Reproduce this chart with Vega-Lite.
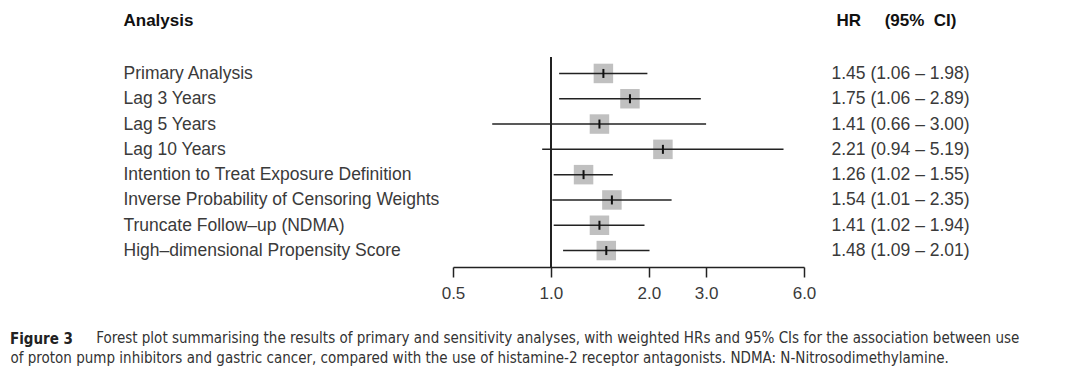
{
  "$schema": "https://vega.github.io/schema/vega-lite/v6.json",
  "width": 351,
  "height": 210,
  "autosize": "none",
  "padding": {"left": 453, "top": 57, "right": 264, "bottom": 111},
  "background": "white",
  "config": {"view": {"stroke": null}, "font": "Liberation Sans"},
  "title": {
    "text": "Figure 3",
    "orient": "bottom",
    "anchor": "start",
    "frame": "group",
    "dx": -443,
    "dy": -37,
    "font": "Liberation Sans Narrow, DejaVu Sans Condensed, sans-serif",
    "fontSize": 15,
    "fontWeight": "bold",
    "color": "#222222"
  },
  "data": {
    "values": [
      {"analysis": "Primary Analysis", "hr": 1.45, "lo": 1.06, "hi": 1.98, "hrtext": "1.45 (1.06 – 1.98)"},
      {"analysis": "Lag 3 Years", "hr": 1.75, "lo": 1.06, "hi": 2.89, "hrtext": "1.75 (1.06 – 2.89)"},
      {"analysis": "Lag 5 Years", "hr": 1.41, "lo": 0.66, "hi": 3.00, "hrtext": "1.41 (0.66 – 3.00)"},
      {"analysis": "Lag 10 Years", "hr": 2.21, "lo": 0.94, "hi": 5.19, "hrtext": "2.21 (0.94 – 5.19)"},
      {"analysis": "Intention to Treat Exposure Definition", "hr": 1.26, "lo": 1.02, "hi": 1.55, "hrtext": "1.26 (1.02 – 1.55)"},
      {"analysis": "Inverse Probability of Censoring Weights", "hr": 1.54, "lo": 1.01, "hi": 2.35, "hrtext": "1.54 (1.01 – 2.35)"},
      {"analysis": "Truncate Follow–up (NDMA)", "hr": 1.41, "lo": 1.02, "hi": 1.94, "hrtext": "1.41 (1.02 – 1.94)"},
      {"analysis": "High–dimensional Propensity Score", "hr": 1.48, "lo": 1.09, "hi": 2.01, "hrtext": "1.48 (1.09 – 2.01)"}
    ]
  },
  "encoding": {
    "x": {
      "type": "quantitative",
      "scale": {"type": "log", "domain": [0.5, 6], "nice": false, "zero": false},
      "axis": {
        "values": [0.5, 1, 2, 3, 6],
        "format": ".1f",
        "grid": false,
        "domainColor": "#222222",
        "domainWidth": 1.5,
        "tickColor": "#222222",
        "tickWidth": 1.5,
        "tickSize": 10,
        "labelFontSize": 17,
        "labelColor": "#3a3a3a",
        "labelPadding": 8,
        "labelFlush": false,
        "title": [
          "\u200b\u00a0\u00a0\u00a0\u00a0\u00a0\u00a0\u00a0\u00a0\u00a0\u00a0\u00a0\u00a0\u00a0\u00a0\u00a0\u00a0\u00a0\u00a0\u00a0\u00a0Forest plot summarising the results of primary and sensitivity analyses, with weighted HRs and 95% CIs for the association between use",
          "of proton pump inhibitors and gastric cancer, compared with the use of histamine-2 receptor antagonists. NDMA: N-Nitrosodimethylamine."
        ],
        "titleFont": "Liberation Sans Narrow, DejaVu Sans Condensed, sans-serif",
        "titleFontSize": 15,
        "titleFontWeight": "normal",
        "titleColor": "#333333",
        "titleAngle": 0,
        "titleAlign": "left",
        "titleBaseline": "alphabetic",
        "titleX": -443,
        "titleY": 75,
        "titleLineHeight": 20
      }
    }
  },
  "layer": [
    {
      "mark": {"type": "rule", "color": "#222222", "strokeWidth": 1.5},
      "encoding": {"x": {"datum": 1, "type": "quantitative"}}
    },
    {
      "mark": {"type": "square", "size": 380, "color": "#c0c0c0", "opacity": 1, "filled": true},
      "encoding": {
        "x": {"field": "hr", "type": "quantitative"},
        "y": {
          "field": "analysis",
          "type": "nominal",
          "sort": null,
          "scale": {"type": "point", "padding": 0.65},
          "axis": {
            "orient": "left",
            "domain": false,
            "ticks": false,
            "labelAlign": "left",
            "labelPadding": 330,
            "labelLimit": 0,
            "labelFontSize": 17.5,
            "labelColor": "#3a3a3a",
            "title": "Analysis",
            "titleFontSize": 17,
            "titleFontWeight": "bold",
            "titleColor": "#111111",
            "titleAngle": 0,
            "titleAlign": "left",
            "titleBaseline": "middle",
            "titleX": -330,
            "titleY": -37
          }
        }
      }
    },
    {
      "mark": {"type": "rule", "color": "#222222", "strokeWidth": 1.5},
      "encoding": {
        "x": {"field": "lo", "type": "quantitative"},
        "x2": {"field": "hi"},
        "y": {
          "field": "analysis",
          "type": "nominal",
          "sort": null,
          "scale": {"type": "point", "padding": 0.65},
          "axis": null
        }
      }
    },
    {
      "mark": {"type": "tick", "color": "#111111", "size": 9, "thickness": 2, "opacity": 1},
      "encoding": {
        "x": {"field": "hr", "type": "quantitative"},
        "y": {
          "field": "hrtext",
          "type": "nominal",
          "sort": null,
          "scale": {"type": "point", "padding": 0.65},
          "axis": {
            "orient": "right",
            "domain": false,
            "ticks": false,
            "labelAlign": "left",
            "labelPadding": 27,
            "labelLimit": 0,
            "labelFontSize": 17.5,
            "labelColor": "#3a3a3a",
            "title": "HR\u00a0\u00a0\u00a0\u00a0\u00a0(95%\u00a0\u00a0CI)",
            "titleFontSize": 17,
            "titleFontWeight": "bold",
            "titleColor": "#111111",
            "titleAngle": 0,
            "titleAlign": "left",
            "titleBaseline": "middle",
            "titleX": 32,
            "titleY": -37
          }
        }
      }
    }
  ],
  "resolve": {"scale": {"y": "independent"}, "axis": {"y": "independent"}}
}
